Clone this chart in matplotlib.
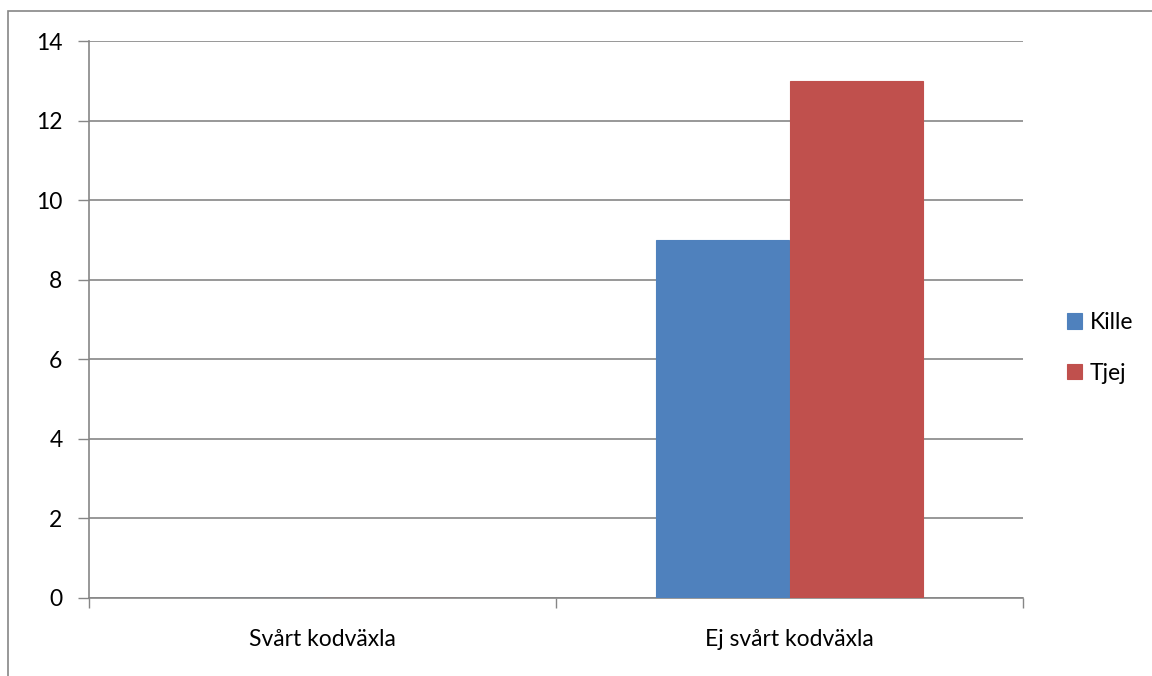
import matplotlib
matplotlib.use("Agg")
import matplotlib.pyplot as plt
from matplotlib.patches import Rectangle
import numpy as np

categories = ["Svårt kodväxla", "Ej svårt kodväxla"]
series_names = ["Kille", "Tjej"]
kille = [0, 9]
tjej = [0, 13]
yticks = [0, 2, 4, 6, 8, 10, 12, 14]

W, H = 1152, 676
fig = plt.figure(figsize=(W / 100, H / 100), dpi=100)
plt.rcParams['font.family'] = ['Lato', 'DejaVu Sans']
FS = 16.5

# outer chart frame
fig.patches.append(Rectangle((8 / W, -0.1), 1.2, 1 - 11 / H + 0.1, transform=fig.transFigure,
                             fill=False, edgecolor='#868686', linewidth=1.2))

ax = fig.add_axes([89 / W, (H - 598) / H, (1023 - 89) / W, (598 - 41) / H])
x = np.arange(len(categories))
bw = 0.285
gray = '#868686'
ax.bar(x - bw / 2, kille, bw, color='#4F81BD', label=series_names[0], zorder=3,
       linewidth=0.8, edgecolor='#4F81BD')
ax.bar(x + bw / 2, tjej, bw, color='#C0504D', label=series_names[1], zorder=3,
       linewidth=0.8, edgecolor='#C0504D')

ax.set_xlim(-0.5, len(categories) - 0.5)
ax.set_ylim(0, 14)
ax.set_yticks(yticks)
ax.set_yticklabels([str(v) for v in yticks], fontsize=FS)
ax.tick_params(axis='y', length=8, color=gray, width=1, pad=11)
ax.yaxis.grid(True, color=gray, linewidth=1.2, zorder=0)

ax.set_xticks(np.arange(-0.5, len(categories), 1.0))
ax.set_xticklabels([])
ax.set_xticks(x, minor=True)
ax.set_xticklabels(categories, minor=True, fontsize=FS)
ax.tick_params(axis='x', which='major', length=7, color=gray, width=1)
ax.tick_params(axis='x', which='minor', length=0, pad=22)

for s in ['top', 'right']:
    ax.spines[s].set_visible(False)
for s in ['left', 'bottom']:
    ax.spines[s].set_color(gray)
    ax.spines[s].set_linewidth(1.2)

leg = ax.legend(loc='center left', bbox_to_anchor=(1046 / W, (H - 348) / H),
                bbox_transform=fig.transFigure, frameon=False, fontsize=FS,
                handlelength=0.65, handleheight=0.65, handletextpad=0.35, labelspacing=1.3)

fig.savefig("out.png", dpi=100)
